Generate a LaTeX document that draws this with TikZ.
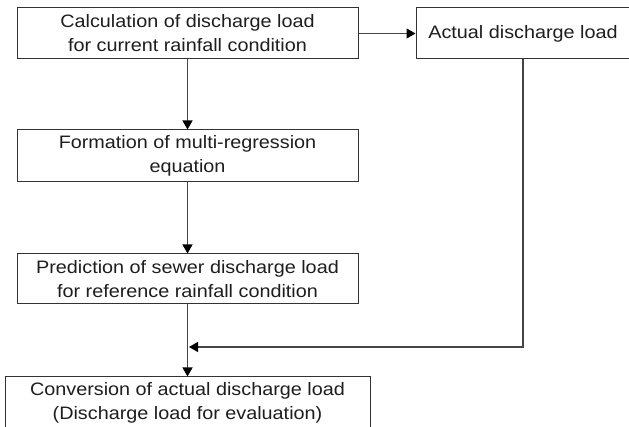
\documentclass[tikz,border=0pt]{standalone}
\usepackage{fontspec}
\setmainfont{Liberation Sans}[FakeStretch=1.1]
\usetikzlibrary{arrows.meta}
\definecolor{txt}{HTML}{1E1E1E}
\definecolor{edge}{HTML}{333333}
\definecolor{conn}{HTML}{454545}
\tikzset{
  box/.style={draw=edge, line width=1pt, rectangle, align=center, inner sep=0pt,
    text=txt, font=\fontsize{18}{24}\selectfont},
  flow/.style={draw=conn, line width=1.2pt,
    -{Triangle[length=9pt,width=10pt,fill=black,color=black]}}
}
\begin{document}
\begin{tikzpicture}[x=1pt,y=-1pt]
\clip (0,0) rectangle (629,427);
\fill[white] (0,0) rectangle (629,427);
\node[box, minimum width=341pt, minimum height=51pt] (calc) at (187.5,33.5)
  {Calculation of discharge load\\for current rainfall condition};
\node[box, minimum width=214pt, minimum height=51pt] (actual) at (523,33.5)
  {Actual discharge load};
\node[box, minimum width=341pt, minimum height=52pt] (form) at (187.5,156)
  {Formation of multi-regression\\equation};
\node[box, minimum width=341pt, minimum height=50pt] (pred) at (187.5,279)
  {Prediction of sewer discharge load\\for reference rainfall condition};
\node[box, minimum width=365pt, minimum height=52pt] (conv) at (187.5,403)
  {Conversion of actual discharge load\\(Discharge load for evaluation)};
\coordinate (join) at (189,347);
\draw[flow] (calc) -- (actual);
\draw[flow] (calc) -- (form);
\draw[flow] (form) -- (pred);
\draw[flow] (pred) -- (conv);
\draw[flow] (actual.south) |- (join);
\end{tikzpicture}
\end{document}
